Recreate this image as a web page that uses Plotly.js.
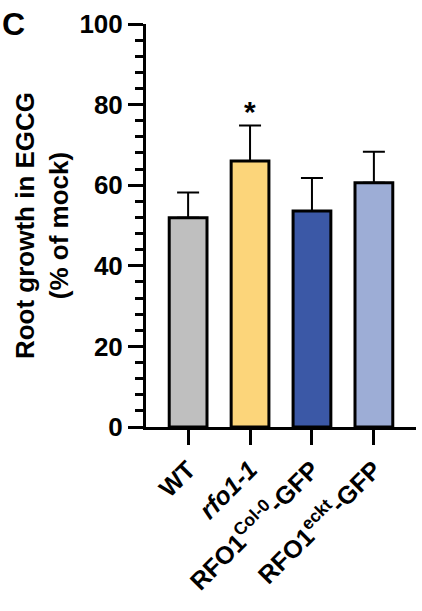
<!DOCTYPE html>
<html><head><meta charset="utf-8">
<script src="https://cdn.plot.ly/plotly-3.0.1.min.js"></script>
<style>html,body{margin:0;padding:0;background:#fff}#chart{width:422px;height:611px}</style>
</head><body><div id="chart"></div>
<script>
const categories = ["WT", "<i>rfo1-1</i>", "RFO1<sup>Col-0</sup>-GFP", "RFO1<sup>eckt</sup>-GFP"];
const means = [51.9, 66.0, 53.6, 60.6];
const errUp = [6.3, 8.8, 8.2, 7.7];
const barColors = ["#bfbfbf", "#fcd57a", "#3b58a6", "#9dadd6"];
const sigLabels = ["", "*", "", ""];
const yTickVals = [0, 20, 40, 60, 80, 100];

const FONT = "Liberation Sans, Arial, sans-serif";
const xIdx = categories.map((c, i) => i);
const trace = {
  type: "bar",
  x: xIdx,
  y: means,
  width: 0.61,
  marker: {color: barColors, line: {color: "#000", width: 3}},
  error_y: {type: "data", symmetric: false, array: errUp, arrayminus: errUp.map(() => 0),
            color: "#000", thickness: 2, width: 11},
  hoverinfo: "skip"
};
const annotations = [];
sigLabels.forEach((s, i) => {
  if (s) annotations.push({x: i, y: means[i] + errUp[i] + 3.5, xref: "x", yref: "y", text: "<b>" + s + "</b>",
    showarrow: false, font: {family: FONT, size: 30, color: "#000"}, yanchor: "middle"});
});
annotations.push({x: -146/270, y: 1.0, xref: "paper", yref: "paper", xanchor: "left", yanchor: "middle",
  text: "<b>C</b>", showarrow: false, font: {family: FONT, size: 32, color: "#000"}});

const layout = {
  width: 422, height: 611,
  margin: {l: 146, r: 6, t: 24, b: 184},
  paper_bgcolor: "#fff", plot_bgcolor: "#fff",
  showlegend: false,
  font: {family: FONT, color: "#000"},
  xaxis: {
    range: [-0.68, 3.68], tickvals: xIdx, ticktext: categories.map(c => "<b>" + c + "</b>"), tickangle: -45,
    showline: true, linecolor: "#000", linewidth: 3, ticks: "outside", ticklen: 15, tickwidth: 3, tickcolor: "#000",
    showgrid: false, zeroline: false, fixedrange: true,
    tickfont: {family: FONT, size: 25, weight: "bold", color: "#000"}
  },
  yaxis: {
    range: [0, 100], tickvals: yTickVals, ticktext: yTickVals.map(v => "<b>" + v + "</b>"),
    showline: true, linecolor: "#000", linewidth: 3, ticks: "outside", ticklen: 15, tickwidth: 3, tickcolor: "#000",
    minor: {dtick: 4, ticks: "outside", ticklen: 8, tickwidth: 3, tickcolor: "#000", showgrid: false},
    showgrid: false, zeroline: false,
    tickfont: {family: FONT, size: 26, weight: "bold", color: "#000"},
    title: {text: "<b>Root growth in EGCG<br>(% of mock)</b>", standoff: 4,
            font: {family: FONT, size: 26, weight: "bold", color: "#000"}}
  },
  annotations: annotations
};
Plotly.newPlot("chart", [trace], layout, {displayModeBar: false, staticPlot: true});
</script></body></html>
